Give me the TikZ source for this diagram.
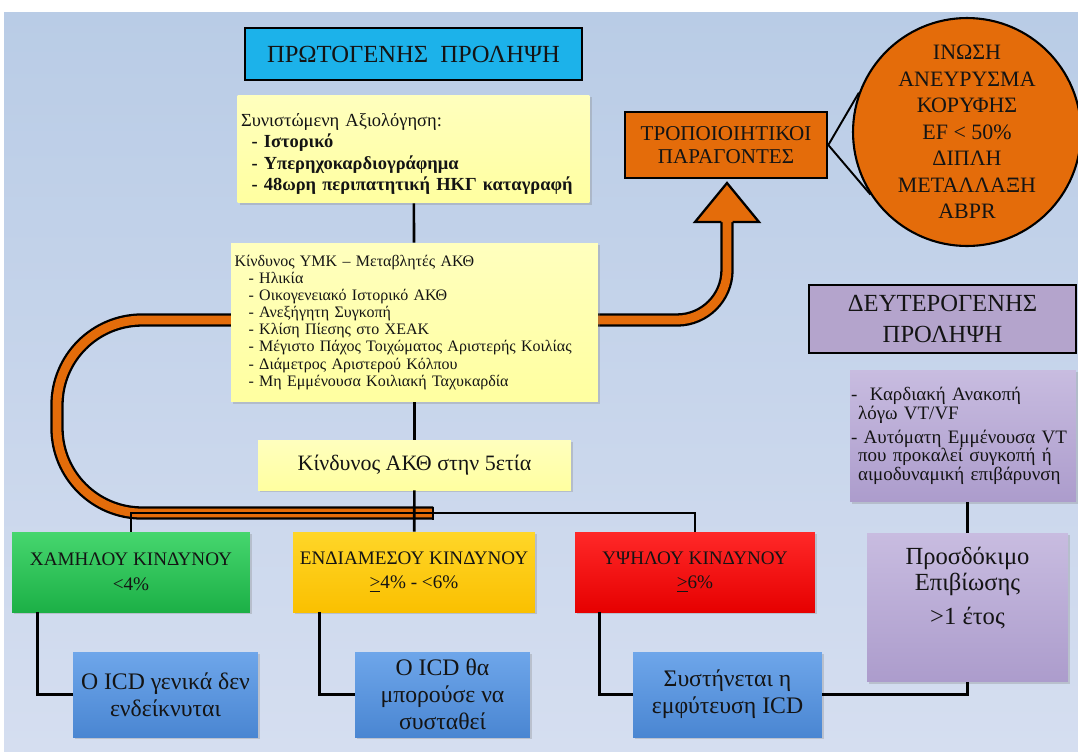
\documentclass[tikz,border=0pt]{standalone}
\usepackage{fontspec}
\setmainfont{Liberation Serif}
\usetikzlibrary{shadows}

\definecolor{bgtop}{RGB}{185,204,230}
\definecolor{bgbot}{RGB}{213,222,240}
\definecolor{cyanhdr}{RGB}{28,178,234}
\definecolor{paleyel}{RGB}{255,255,160}
\definecolor{paleyeltop}{RGB}{255,255,190}
\definecolor{orng}{RGB}{228,108,10}
\definecolor{grntop}{RGB}{70,214,110}
\definecolor{grnbot}{RGB}{28,176,70}
\definecolor{ambtop}{RGB}{255,214,40}
\definecolor{ambbot}{RGB}{250,192,0}
\definecolor{redtop}{RGB}{255,40,40}
\definecolor{redbot}{RGB}{230,0,0}
\definecolor{blutop}{RGB}{110,166,234}
\definecolor{blubot}{RGB}{74,134,210}
\definecolor{purtop}{RGB}{200,188,224}
\definecolor{purbot}{RGB}{172,156,204}
\definecolor{purhdr}{RGB}{180,164,204}
\definecolor{ink}{RGB}{20,20,20}

\begin{document}
\begin{tikzpicture}[x=0.02cm, y=-0.02cm, text=ink,
  dropsh/.style={drop shadow={opacity=0.3, shadow xshift=1.2pt, shadow yshift=-1.2pt}},
  hdrbox/.style={draw=black, line width=1.5pt, align=center},
  yelbox/.style={dropsh, top color=paleyeltop, bottom color=paleyel, align=left, inner xsep=2pt, inner ysep=1pt},
  riskbox/.style={dropsh, minimum height=1.6cm, align=center, font=\fontsize{10.9}{14}\selectfont},
  icdbox/.style={dropsh, top color=blutop, bottom color=blubot, minimum height=1.7cm, align=center, font=\fontsize{13.5}{15.5}\selectfont},
  purbox/.style={dropsh, top color=purtop, bottom color=purbot},
  conn/.style={line width=1.5pt},
  uband/.style={double=orng, double distance=5pt, line width=1.3pt}
]
\fill[white] (0,0) rectangle (1078,751);
\shade[top color=bgtop, bottom color=bgbot] (4,12) rectangle (1078,751);
\useasboundingbox (0,0) rectangle (1078,751);

% orange loop arrow
\draw[uband, rounded corners=1.7cm] (433,513) -- (57,513) -- (57,320) -- (300,320)
  [rounded corners=1cm] -- (727,320) -- (727,222);
\draw[line width=1.3pt] (433,506.5) -- (433,519.5);
\filldraw[fill=orng, line width=1.3pt] (721.4,222) -- (695,222) -- (727,183) -- (759,222) -- (732.6,222);

\node[hdrbox, fill=cyanhdr, minimum width=6.74cm, minimum height=1.04cm, font=\fontsize{14}{16}\selectfont] (prim) at (413.5,54) {ΠΡΩΤΟΓΕΝΗΣ\ \ ΠΡΟΛΗΨΗ};

\node[yelbox, text width=6.9cm, minimum height=2.16cm, font=\fontsize{10.5}{12.2}\selectfont] (eval) at (413.5,149)
  {\rule{0pt}{13pt}Συνιστώμενη Αξιολόγηση:\\
   \hspace*{6pt}\textbf{- Ιστορικό}\\
   \hspace*{6pt}\textbf{- Υπερηχοκαρδιογράφημα}\\
   \hspace*{6pt}\textbf{- 48ωρη περιπατητική ΗΚΓ καταγραφή}};

\node[yelbox, text width=7.2cm, minimum height=3.18cm, font=\fontsize{9.1}{9.7}\selectfont] (risk) at (414.5,322.5)
  {Κίνδυνος ΥΜΚ – Μεταβλητές ΑΚΘ\\
   \hspace*{8pt}- Ηλικία\\
   \hspace*{8pt}- Οικογενειακό Ιστορικό ΑΚΘ\\
   \hspace*{8pt}- Ανεξήγητη Συγκοπή\\
   \hspace*{8pt}- Κλίση Πίεσης στο ΧΕΑΚ\\
   \hspace*{8pt}- Μέγιστο Πάχος Τοιχώματος Αριστερής Κοιλίας\\
   \hspace*{8pt}- Διάμετρος Αριστερού Κόλπου\\
   \hspace*{8pt}- Μη Εμμένουσα Κοιλιακή Ταχυκαρδία};

\node[yelbox, align=center, minimum width=6.26cm, minimum height=1cm, font=\fontsize{12.5}{14}\selectfont] (five) at (414.5,465) {Κίνδυνος ΑΚΘ στην 5ετία};

\node[riskbox, top color=grntop, bottom color=grnbot, minimum width=4.76cm] (low) at (131,572) {ΧΑΜΗΛΟΥ ΚΙΝΔΥΝΟΥ\\<4\%};
\node[riskbox, top color=ambtop, bottom color=ambbot, minimum width=4.84cm] (mid) at (414,572) {ΕΝΔΙΑΜΕΣΟΥ ΚΙΝΔΥΝΟΥ\\\underline{>}4\% - <6\%};
\node[riskbox, top color=redtop, bottom color=redbot, minimum width=4.8cm] (high) at (695,572) {ΥΨΗΛΟΥ ΚΙΝΔΥΝΟΥ\\\underline{>}6\%};

\node[icdbox, minimum width=3.7cm] (nolow) at (165.5,694.5) {Ο ICD γενικά δεν\\ενδείκνυται};
\node[icdbox, minimum width=3.5cm] (nomid) at (442.5,694.5) {Ο ICD θα\\μπορούσε να\\συσταθεί};
\node[icdbox, minimum width=3.78cm] (icd) at (727.5,694.5) {Συστήνεται η\\εμφύτευση ICD};

\node[hdrbox, fill=orng, minimum width=4.04cm, minimum height=1.32cm, font=\fontsize{12}{13}\selectfont] (trop) at (726,145) {ΤΡΟΠΟΙΟΙΗΤΙΚΟΙ\\ΠΑΡΑΓΟΝΤΕΣ};
\node[circle, draw=black, line width=1.2pt, fill=orng, minimum size=4.56cm, inner sep=-0.6cm, align=center, font=\fontsize{12.5}{15.1}\selectfont] (circ) at (967,132)
  {ΙΝΩΣΗ\\ΑΝΕΥΡΥΣΜΑ\\ΚΟΡΥΦΗΣ\\EF < 50\%\\ΔΙΠΛΗ\\ΜΕΤΑΛΛΑΞΗ\\ABPR};

\node[hdrbox, fill=purhdr, minimum width=5.34cm, minimum height=1.36cm, font=\fontsize{14}{18}\selectfont] (sec) at (942.5,319) {ΔΕΥΤΕΡΟΓΕΝΗΣ\\ΠΡΟΛΗΨΗ};
\node[purbox, text width=4.48cm, minimum height=2.64cm, align=left, inner xsep=0.02cm, font=\fontsize{10.8}{10.6}\selectfont] (cond) at (963,436)
  {-\ \ Καρδιακή Ανακοπή\\
   \hspace*{4pt}λόγω VT/VF\\[3pt]
   -\ Αυτόματη Εμμένουσα VT\\
   \hspace*{4pt}που προκαλεί συγκοπή ή\\
   \hspace*{4pt}αιμοδυναμική επιβάρυνση};
\node[purbox, minimum width=4.02cm, minimum height=2.98cm, align=center, font=\fontsize{14}{14.7}\selectfont] (surv) at (967.5,607.5) {Προσδόκιμο\\Επιβίωσης\\[5pt]>1 έτος\\[10pt]\mbox{}};

\coordinate (bus) at (414,513);
\draw[conn] (eval) -- (risk);
\draw[conn] (risk) -- (five);
\draw[conn] (five) -- (mid);
\draw[conn] (low.north) |- (bus) -| (high.north);
\draw[conn] (low.south west) ++(26,0) |- (nolow.west);
\draw[conn] (mid.south west) ++(27,0) |- (nomid.west);
\draw[conn] (high.south west) ++(25,0) |- (icd.west);
\draw[conn] (icd.east) -| (surv.south);
\draw[conn] (surv.north) -- (surv.north |- cond.south);
\draw[line width=1.1pt] (circ.160) -- (trop.east) -- (circ.213);
\end{tikzpicture}
\end{document}
